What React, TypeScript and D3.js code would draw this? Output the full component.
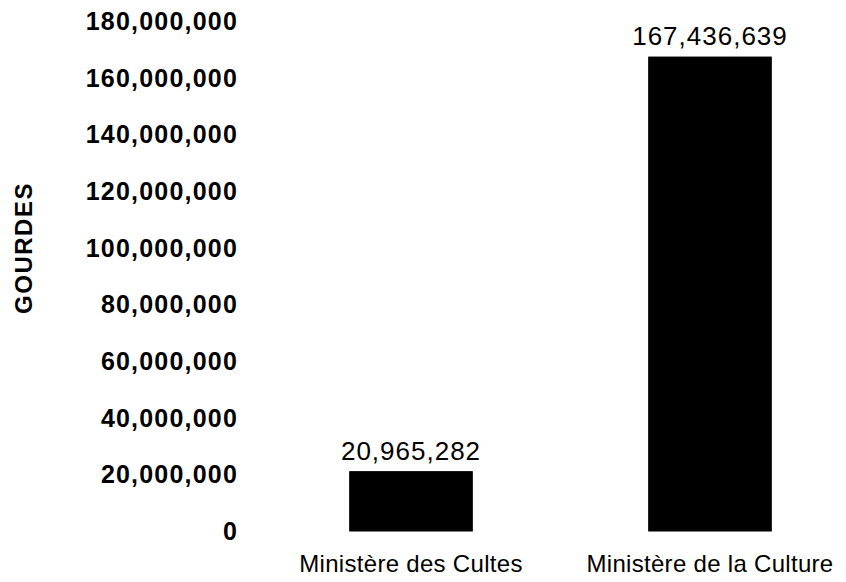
import React from 'react';
import * as d3 from 'd3';

// Budget by ministry (gourdes)
const categories = ['Ministère des Cultes', 'Ministère de la Culture'];
const values = [20965282, 167436639];
const yTicks = [0, 20000000, 40000000, 60000000, 80000000, 100000000, 120000000, 140000000, 160000000, 180000000];

const width = 846;
const height = 582;
const font = '"Liberation Sans", Arial, Helvetica, sans-serif';

export default function App() {
  const y = d3.scaleLinear().domain([0, 180000000]).range([531, 21.5]);
  const x = d3.scaleBand<string>()
    .domain(categories)
    .range([261.5, 859.5])
    .paddingInner(0.59)
    .paddingOuter(0.295);

  const fmt = d3.format(',');

  return (
    <svg
      width={width}
      height={height}
      viewBox={`0 0 ${width} ${height}`}
      style={{ position: 'absolute', left: 0, top: 0, background: '#fff' }}
    >
      {/* y tick labels, no axis line */}
      <g fontFamily={font} fontWeight="bold" fontSize={25} fill="#000">
        {yTicks.map(t => (
          <text
            key={t}
            x={238}
            y={y(t)}
            dy="0.35em"
            textAnchor="end"
            letterSpacing={1.2}
          >
            {fmt(t)}
          </text>
        ))}
      </g>

      {/* axis title */}
      <text
        transform={`translate(24,248) rotate(-90)`}
        textAnchor="middle"
        dy="0.35em"
        fontFamily={font}
        fontWeight="bold"
        fontSize={24}
        letterSpacing={1.5}
        fill="#000"
      >
        GOURDES
      </text>

      {/* bars */}
      {categories.map((c, i) => (
        <rect
          key={c}
          x={x(c)}
          y={y(values[i])}
          width={x.bandwidth()}
          height={y(0) - y(values[i])}
          fill="#000"
          stroke="#000"
          strokeWidth={1}
        />
      ))}

      {/* value labels */}
      <g fontFamily={font} fontSize={26} fill="#000" textAnchor="middle">
        {categories.map((c, i) => (
          <text
            key={c}
            x={(x(c) ?? 0) + x.bandwidth() / 2}
            y={y(values[i]) - 12}
            letterSpacing={1}
          >
            {fmt(values[i])}
          </text>
        ))}
      </g>

      {/* category labels */}
      <g fontFamily={font} fontSize={24} fill="#000" textAnchor="middle">
        {categories.map(c => (
          <text
            key={c}
            x={(x(c) ?? 0) + x.bandwidth() / 2}
            y={564}
            dy="0.35em"
            letterSpacing={0.3}
          >
            {c}
          </text>
        ))}
      </g>
    </svg>
  );
}
